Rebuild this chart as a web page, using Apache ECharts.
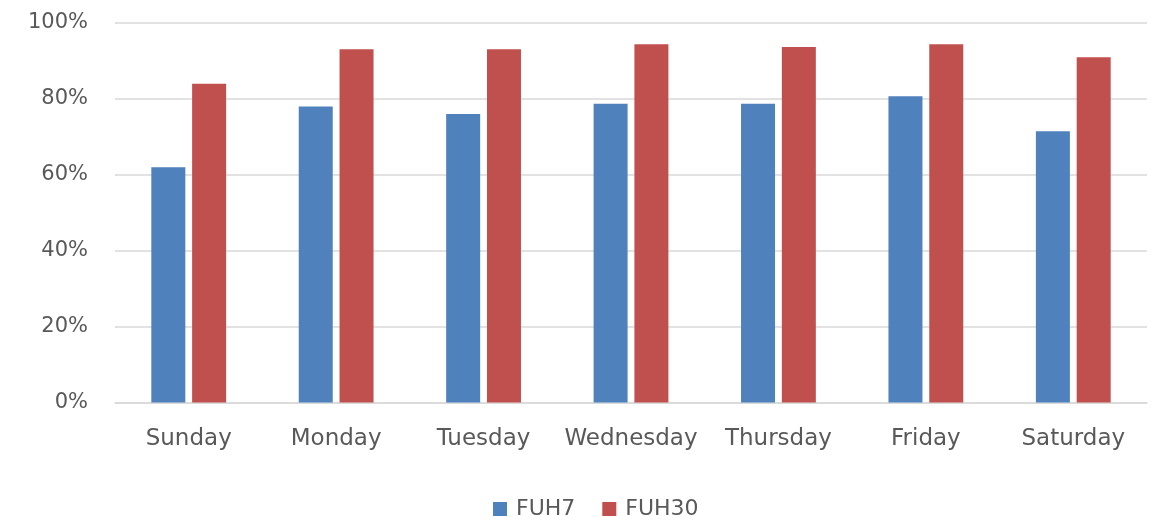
<!DOCTYPE html>
<html>
<head>
<meta charset="utf-8">
<script src="https://cdn.jsdelivr.net/npm/echarts@6/dist/echarts.min.js"></script>
<style>
html,body{margin:0;padding:0;background:#fff;}
#chart{width:1156px;height:520px;}
</style>
</head>
<body>
<div id="chart"></div>
<script>
const categories = ['Sunday','Monday','Tuesday','Wednesday','Thursday','Friday','Saturday'];
const fuh7 = [62, 78, 76, 78.7, 78.7, 80.7, 71.5];
const fuh30 = [84, 93.1, 93.1, 94.4, 93.7, 94.4, 91];
const yTicks = [0, 20, 40, 60, 80, 100];

const FONT = 'DejaVu Sans';
const chart = echarts.init(document.getElementById('chart'));
chart.setOption({
  animation: false,
  backgroundColor: '#ffffff',
  grid: {left: 115, right: 9, top: 23, bottom: 117.5, containLabel: false},
  legend: {
    left: 488, top: 493,
    itemWidth: 14, itemHeight: 14, itemGap: 27,
    icon: 'rect',
    textStyle: {fontFamily: FONT, fontSize: 22, color: '#595959', padding: [0,0,0,4]},
    data: ['FUH7','FUH30']
  },
  xAxis: {
    type: 'category',
    data: categories,
    axisLine: {lineStyle: {color: '#d9d9d9', width: 1.5}},
    axisTick: {show: false},
    axisLabel: {fontFamily: FONT, fontSize: 23, color: '#595959', margin: 25, interval: 0}
  },
  yAxis: {
    type: 'value',
    min: yTicks[0], max: yTicks[yTicks.length-1], interval: 20,
    axisLine: {show: false},
    axisTick: {show: false},
    splitLine: {lineStyle: {color: '#d9d9d9', width: 1.5}},
    axisLabel: {fontFamily: FONT, fontSize: 21, color: '#595959', margin: 27,
      formatter: v => v + '%'}
  },
  series: [
    {name: 'FUH7', type: 'bar', data: fuh7, barWidth: 34, barGap: '20%',
     itemStyle: {color: '#4F81BD'}},
    {name: 'FUH30', type: 'bar', data: fuh30, barWidth: 34,
     itemStyle: {color: '#C0504D'}}
  ]
});
</script>
</body>
</html>
